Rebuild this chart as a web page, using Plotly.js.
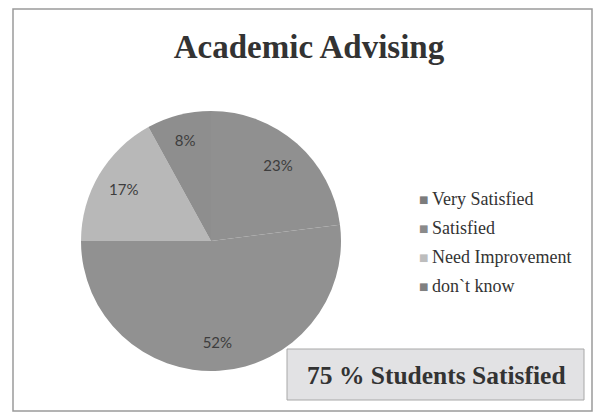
<!DOCTYPE html>
<html>
<head>
<meta charset="utf-8">
<script src="https://cdn.plot.ly/plotly-3.0.1.min.js"></script>
<style>html,body{margin:0;padding:0;background:#fff;}#chart{width:602px;height:416px;}</style>
</head>
<body>
<div id="chart"></div>
<script>
const categories = ["Very Satisfied", "Satisfied", "Need Improvement", "don`t know"];
const values = [23, 52, 17, 8];
const sliceColors = ["#909090", "#919191", "#b8b8b8", "#8e8e8e"];
const legendColors = ["#7c7c7c", "#8a8a8a", "#bdbdbd", "#808080"];
const chartTitle = "Academic Advising";
const noteText = "75 % Students Satisfied";

const W = 602, H = 416;
const px = x => x / W;
const py = y => 1 - y / H;
const pieDomain = { x: [px(81), px(341)], y: [py(372), py(110)] };

const pieTrace = {
  type: "pie",
  labels: categories,
  values: values,
  sort: false,
  direction: "clockwise",
  rotation: 0,
  marker: { colors: sliceColors, line: { width: 0 } },
  textinfo: "none",
  domain: pieDomain,
  showlegend: false,
  hoverinfo: "none"
};

// transparent ring carrying the percentage labels, so they sit out toward the rim
const labelTrace = {
  type: "pie",
  labels: categories,
  values: values,
  sort: false,
  direction: "clockwise",
  rotation: 0,
  hole: 0.56,
  marker: { colors: categories.map(() => "rgba(0,0,0,0)"), line: { width: 0 } },
  textinfo: "percent",
  texttemplate: "%{percent:.0%}",
  textposition: "inside",
  insidetextorientation: "horizontal",
  textfont: { family: "Lato, 'Open Sans', sans-serif", size: 15, color: "#3d3d3d" },
  domain: pieDomain,
  showlegend: false,
  hoverinfo: "none"
};

const annotations = [];
const legendTop = 199, legendStep = 29;
categories.forEach((c, i) => {
  annotations.push({
    xref: "paper", yref: "paper", x: px(423), y: py(legendTop + i * legendStep),
    xanchor: "center", yanchor: "middle", showarrow: false,
    text: "■", font: { family: "DejaVu Sans", size: 10, color: legendColors[i] }
  });
  annotations.push({
    xref: "paper", yref: "paper", x: px(430), y: py(legendTop + i * legendStep),
    xanchor: "left", yanchor: "middle", showarrow: false,
    text: c, font: { family: "Liberation Serif", size: 18, color: "#333" }
  });
});
annotations.push({
  xref: "paper", yref: "paper", x: px(436), y: py(375),
  xanchor: "center", yanchor: "middle", showarrow: false,
  text: "<b>" + noteText + "</b>",
  font: { family: "Liberation Serif", size: 25.5, color: "#333" }
});

const layout = {
  width: W, height: H,
  margin: { l: 0, r: 0, t: 0, b: 0 },
  paper_bgcolor: "#ffffff",
  title: {
    text: "<b>" + chartTitle + "</b>",
    font: { family: "Liberation Serif", size: 33, color: "#333" },
    x: px(309), xanchor: "center", y: py(46), yanchor: "middle"
  },
  shapes: [
    { type: "rect", xref: "paper", yref: "paper", x0: px(13), x1: px(592), y0: py(411), y1: py(9),
      line: { color: "#9a9a9a", width: 1.5 }, fillcolor: "rgba(0,0,0,0)" },
    { type: "rect", xref: "paper", yref: "paper", x0: px(287), x1: px(584), y0: py(400), y1: py(349),
      line: { color: "#a8a8a8", width: 1 }, fillcolor: "#e2e2e4", layer: "below" }
  ],
  annotations: annotations
};

Plotly.newPlot("chart", [pieTrace, labelTrace], layout, { staticPlot: true, displayModeBar: false });
</script>
</body>
</html>
